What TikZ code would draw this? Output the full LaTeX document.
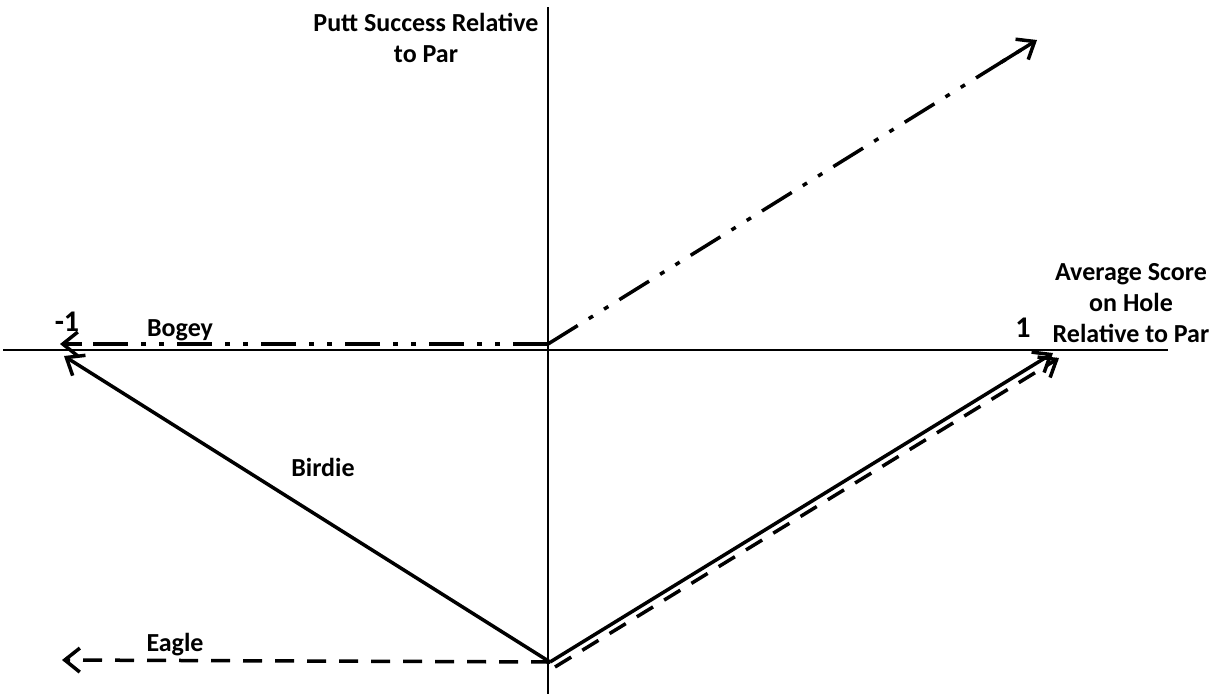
\documentclass[tikz,border=0pt]{standalone}
\usepackage{fontspec}
\setmainfont{Carlito}
\usetikzlibrary{arrows.meta,calc}
\begin{document}
\begin{tikzpicture}[x=1pt,y=-1pt,
  axis/.style={line width=1.5pt},
  vec/.style={line width=3.5pt,-{Straight Barb[length=15pt,width=24pt]}},
  plain/.style={line width=3.5pt,shorten >=4pt},
  dashdotdot/.style={dash pattern=on 35pt off 13pt on 5pt off 13pt on 5pt off 13pt},
  dashedvec/.style={dash pattern=on 19pt off 13pt},
  lab/.style={font=\fontsize{26}{31}\selectfont\bfseries,align=center,inner sep=0pt},
  num/.style={font=\fontsize{30}{32}\selectfont\bfseries,inner sep=0pt}]
\useasboundingbox (0,0) rectangle (1225,694);
% axes
\coordinate (xl) at (3,350);
\coordinate (xr) at (1168,350);
\coordinate (yt) at (548,7);
\coordinate (yb) at (548,694);
\draw[axis] (xl) -- (xr);
\draw[axis] (yt) -- (yb);
% points
\coordinate (A) at (548,344);
\coordinate (B) at (60,344);
\coordinate (C) at (1037,40);
\coordinate (D) at (550,662);
\coordinate (E) at (64,356);
\coordinate (F) at (62,660);
\coordinate (G) at (1053,353);
\coordinate (D2) at (555,667);
\coordinate (G2) at (1059,358);
% vectors
\draw[plain,dashdotdot] (A) -- (B);
\draw[vec] ($(B)!22pt!(A)$) -- (B);
\draw[plain,dashdotdot] (A) -- (C);
\draw[vec] ($(C)!42pt!(A)$) -- (C);
\draw[vec] (D) -- (E);
\draw[plain,dashedvec] (D) -- (F);
\draw[vec] ($(F)!2pt!(D)$) -- (F);
\draw[vec] (D) -- (G);
\draw[plain,dashedvec] (D2) -- (G2);
\draw[vec] ($(G2)!2pt!(D2)$) -- (G2);
% labels
\node[lab] (ylab) at (426,38) {Putt Success Relative\\to Par};
\node[lab] (xlab) at (1131,303) {Average Score\\on Hole\\Relative to Par};
\node[num] (one) at (1023,328) {1};
\node[num] (mone) at (67,322) {-1};
\node[lab] (bogey) at (180,330) {Bogey};
\node[lab] (birdie) at (323,467) {Birdie};
\node[lab] (eagle) at (175,645) {Eagle};
\end{tikzpicture}
\end{document}
